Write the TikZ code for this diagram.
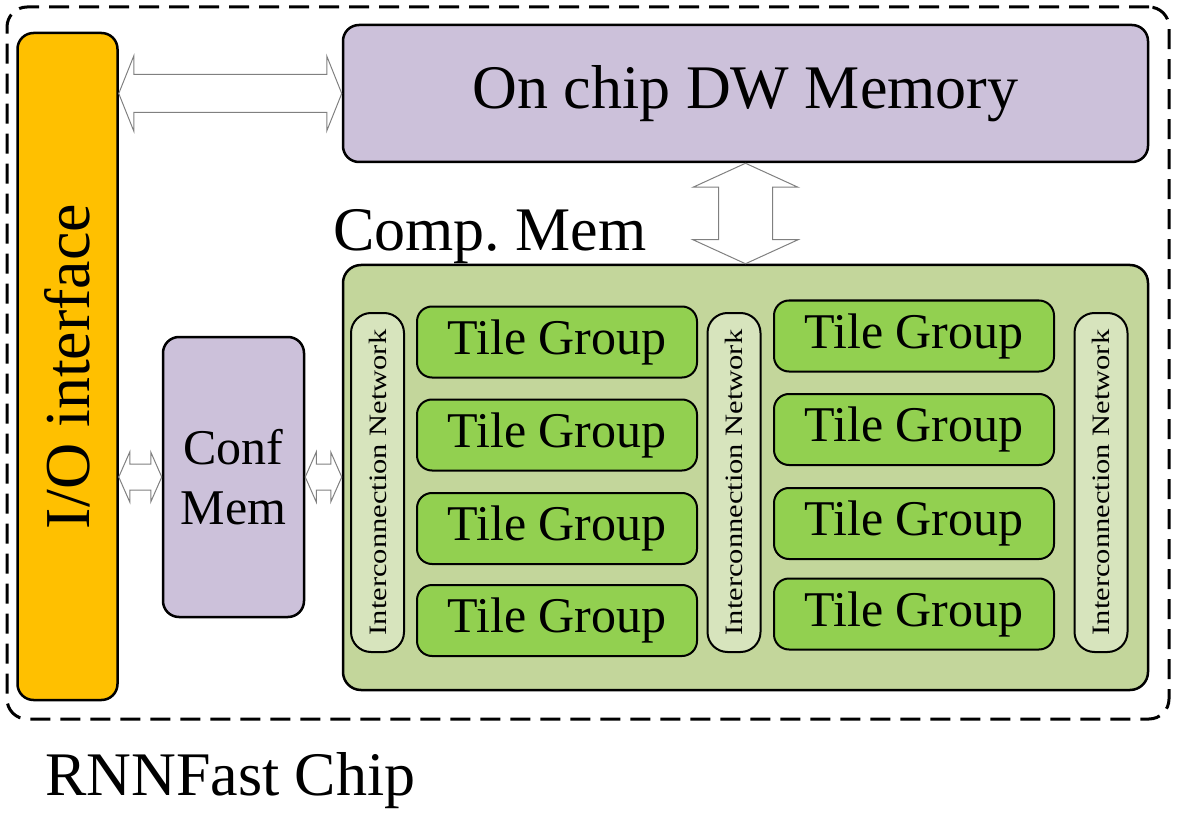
\documentclass[tikz,border=0pt]{standalone}
\usepackage{fontspec}
\setmainfont{Liberation Serif}
\usepackage{tikz}
\usetikzlibrary{calc}

\definecolor{ioorange}{HTML}{FFC000}
\definecolor{mempurple}{HTML}{CCC1DA}
\definecolor{compgreen}{HTML}{C3D69B}
\definecolor{tilegreen}{HTML}{92D050}
\definecolor{netgreen}{HTML}{D7E4BD}

\tikzset{
	blk/.style={draw, line width=2.5pt, rounded corners=16pt, inner sep=0pt},
	tilebox/.style={blk, line width=2pt, rounded corners=15pt, fill=tilegreen,
		minimum width=280pt, minimum height=71pt, font=\fontsize{50}{60}\selectfont},
	netbox/.style={blk, line width=2pt, rounded corners=20pt, fill=netgreen, rotate=90,
		minimum width=339pt, minimum height=53pt, font=\fontsize{25}{28}\selectfont},
	fatarrow/.style={draw=gray, fill=white, line width=1pt, line join=miter},
	bigtext/.style={font=\fontsize{62}{70}\selectfont, inner sep=0pt}
}

\begin{document}
\begin{tikzpicture}[x=1pt,y=-1pt]
	\useasboundingbox (0,0) rectangle (1184,813);

	% chip outline
	\node[draw, line width=3pt, dash pattern=on 20pt off 10pt, rounded corners=20pt,
		minimum width=1162pt, minimum height=712pt] (chip) at (588,363) {};
	\node[bigtext, anchor=base west] (chiplabel) at (45,795) {RNNFast Chip};

	% blocks (io is turned by 90 degrees, so its right side is io.south)
	\node[blk, fill=ioorange, rotate=90, minimum width=667pt, minimum height=100pt,
		font=\fontsize{64}{70}\selectfont] (io) at (67.5,366.5) {I/O interface};
	\node[blk, fill=mempurple, minimum width=805pt, minimum height=137pt, bigtext] (dwmem)
		at (745.5,93.5) {\raisebox{-3pt}{On chip DW Memory}};
	\node[blk, fill=mempurple, minimum width=141pt, minimum height=280pt, align=center,
		font=\fontsize{50}{60}\selectfont] (conf) at (233.5,477) {Conf\\Mem};
	\node[blk, fill=compgreen, rounded corners=18pt, minimum width=805pt, minimum height=425pt]
		(comp) at (745.5,477.5) {};
	\node[bigtext, anchor=base west] (complabel) at (333,251) {Comp.\ Mem};

	% interconnection networks
	\foreach \n/\x in {1/377.5, 2/734, 3/1101}
		\node[netbox] (net\n) at (\x,482.5) {\scalebox{1.22}[1]{Interconnection Network}};

	% tile groups
	\foreach \n/\y in {1/342, 2/435, 3/528.5, 4/620.5}
		\node[tilebox] (tgL\n) at (557,\y) {Tile Group};
	\foreach \n/\y in {1/336, 2/429.5, 3/523.5, 4/614}
		\node[tilebox] (tgR\n) at (914,\y) {Tile Group};

	% I/O <-> DW memory
	\draw[fatarrow] (io.south |- dwmem.west) -- ++(15,-37.5) -- ++(0,18.5)
		-- ($(dwmem.west)+(-15,-19)$) -- ++(0,-18.5) -- (dwmem.west) -- ++(-15,37.5)
		-- ++(0,-18.5) -- ($(io.south |- dwmem.west)+(15,19)$) -- ++(0,18.5) -- cycle;

	% DW memory <-> Comp. Mem
	\draw[fatarrow] (dwmem.south) -- ++(-52.5,24) -- ++(25.5,0)
		-- ($(comp.north)+(-27,-24)$) -- ++(-25.5,0) -- (comp.north) -- ++(52.5,-24)
		-- ++(-25.5,0) -- ($(dwmem.south)+(27,24)$) -- ++(25.5,0) -- cycle;

	% I/O <-> Conf Mem
	\draw[fatarrow] (io.south |- conf.west) -- ++(11,-25) -- ++(0,12)
		-- ($(conf.west)+(-11,-13)$) -- ++(0,-12) -- (conf.west) -- ++(-11,25)
		-- ++(0,-12) -- ($(io.south |- conf.west)+(11,13)$) -- ++(0,12) -- cycle;

	% Conf Mem <-> Comp. Mem
	\draw[fatarrow] (conf.east) -- ++(11,-25) -- ++(0,12)
		-- ($(comp.west |- conf.east)+(-11,-13)$) -- ++(0,-12) -- (comp.west |- conf.east) -- ++(-11,25)
		-- ++(0,-12) -- ($(conf.east)+(11,13)$) -- ++(0,12) -- cycle;
\end{tikzpicture}
\end{document}
